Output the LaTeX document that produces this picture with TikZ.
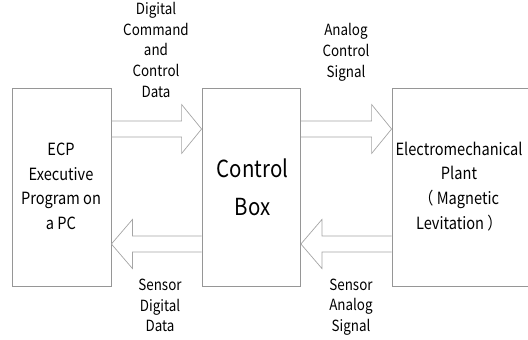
\documentclass[tikz,border=0pt]{standalone}
\usepackage{fontspec}
\setmainfont{Noto Sans CJK JP}[FakeStretch=0.87]
\usetikzlibrary{calc}
\definecolor{edgegray}{RGB}{150,150,150}
\definecolor{arrowgray}{RGB}{165,165,165}
\begin{document}
\begin{tikzpicture}[x=1pt,y=-1pt,
  block/.style={draw=edgegray, line width=0.8pt, inner sep=0pt},
  fatarrow/.style={draw=arrowgray, line width=0.7pt, line join=miter},
  boxtext/.style={align=center, inner sep=0pt, font=\fontsize{16.8}{24.8}\selectfont},
  bigtext/.style={align=center, inner sep=0pt, font=\fontsize{23.5}{38}\selectfont},
  sigtext/.style={align=center, inner sep=0pt, font=\fontsize{15.4}{20.6}\selectfont}]
\useasboundingbox (0,0) rectangle (528,340);

% the three blocks
\node[block, minimum width=99pt, minimum height=198pt] (ecp) at (61.5,187) {};
\node[block, minimum width=98.5pt, minimum height=198pt] (ctrl) at (251.25,187) {};
\node[block, minimum width=150pt, minimum height=198pt] (plant) at (467,187) {};

% block captions (anchored on the baseline of the last line)
\node[boxtext, anchor=base] (ecplbl) at (61,229.7) {ECP\\Executive\\Program on\\a PC};
\node[bigtext, anchor=base] (ctrllbl) at (252.5,215) {Control\\Box};
\node[boxtext, anchor=base] (plantlbl) at (459,229.5) {Electromechanical\\Plant\\（ Magnetic\\Levitation ）};

% hollow block arrows: shaft half width 8, head half width 24.5, head length 20
% forward direction (left to right), 58 above the block centre
\draw[fatarrow] let \p1=($(ecp.east)+(0,-58)$), \p2=($(ctrl.west)+(0,-58)$) in
  (\x1,\y1+8) -- (\x2-20,\y1+8) -- (\x2-20,\y1+24.5) -- (\x2,\y1)
  -- (\x2-20,\y1-24.5) -- (\x2-20,\y1-8) -- (\x1,\y1-8);
\draw[fatarrow] let \p1=($(ctrl.east)+(0,-58)$), \p2=($(plant.west)+(0,-58)$) in
  (\x1,\y1+8) -- (\x2-20,\y1+8) -- (\x2-20,\y1+24.5) -- (\x2,\y1)
  -- (\x2-20,\y1-24.5) -- (\x2-20,\y1-8) -- (\x1,\y1-8);
% return direction (right to left), 57 below the block centre
\draw[fatarrow] let \p1=($(ctrl.west)+(0,57)$), \p2=($(ecp.east)+(0,57)$) in
  (\x1,\y1+8) -- (\x2+21,\y1+8) -- (\x2+21,\y1+24.5) -- (\x2,\y1)
  -- (\x2+21,\y1-24.5) -- (\x2+21,\y1-8) -- (\x1,\y1-8);
\draw[fatarrow] let \p1=($(plant.west)+(0,57)$), \p2=($(ctrl.east)+(0,57)$) in
  (\x1,\y1+8) -- (\x2+21,\y1+8) -- (\x2+21,\y1+24.5) -- (\x2,\y1)
  -- (\x2+21,\y1-24.5) -- (\x2+21,\y1-8) -- (\x1,\y1-8);

% signal captions (anchored on the baseline of the last line)
\node[sigtext, anchor=base] (cmdlbl) at (156,97) {Digital\\Command\\and\\Control\\Data};
\node[sigtext, anchor=base] (anlbl) at (346,77) {Analog\\Control\\Signal};
\node[sigtext, anchor=base] (sdlbl) at (160,331.7) {Sensor\\Digital\\Data};
\node[sigtext, anchor=base] (salbl) at (351,331.5) {Sensor\\Analog\\Signal};
\end{tikzpicture}
\end{document}
